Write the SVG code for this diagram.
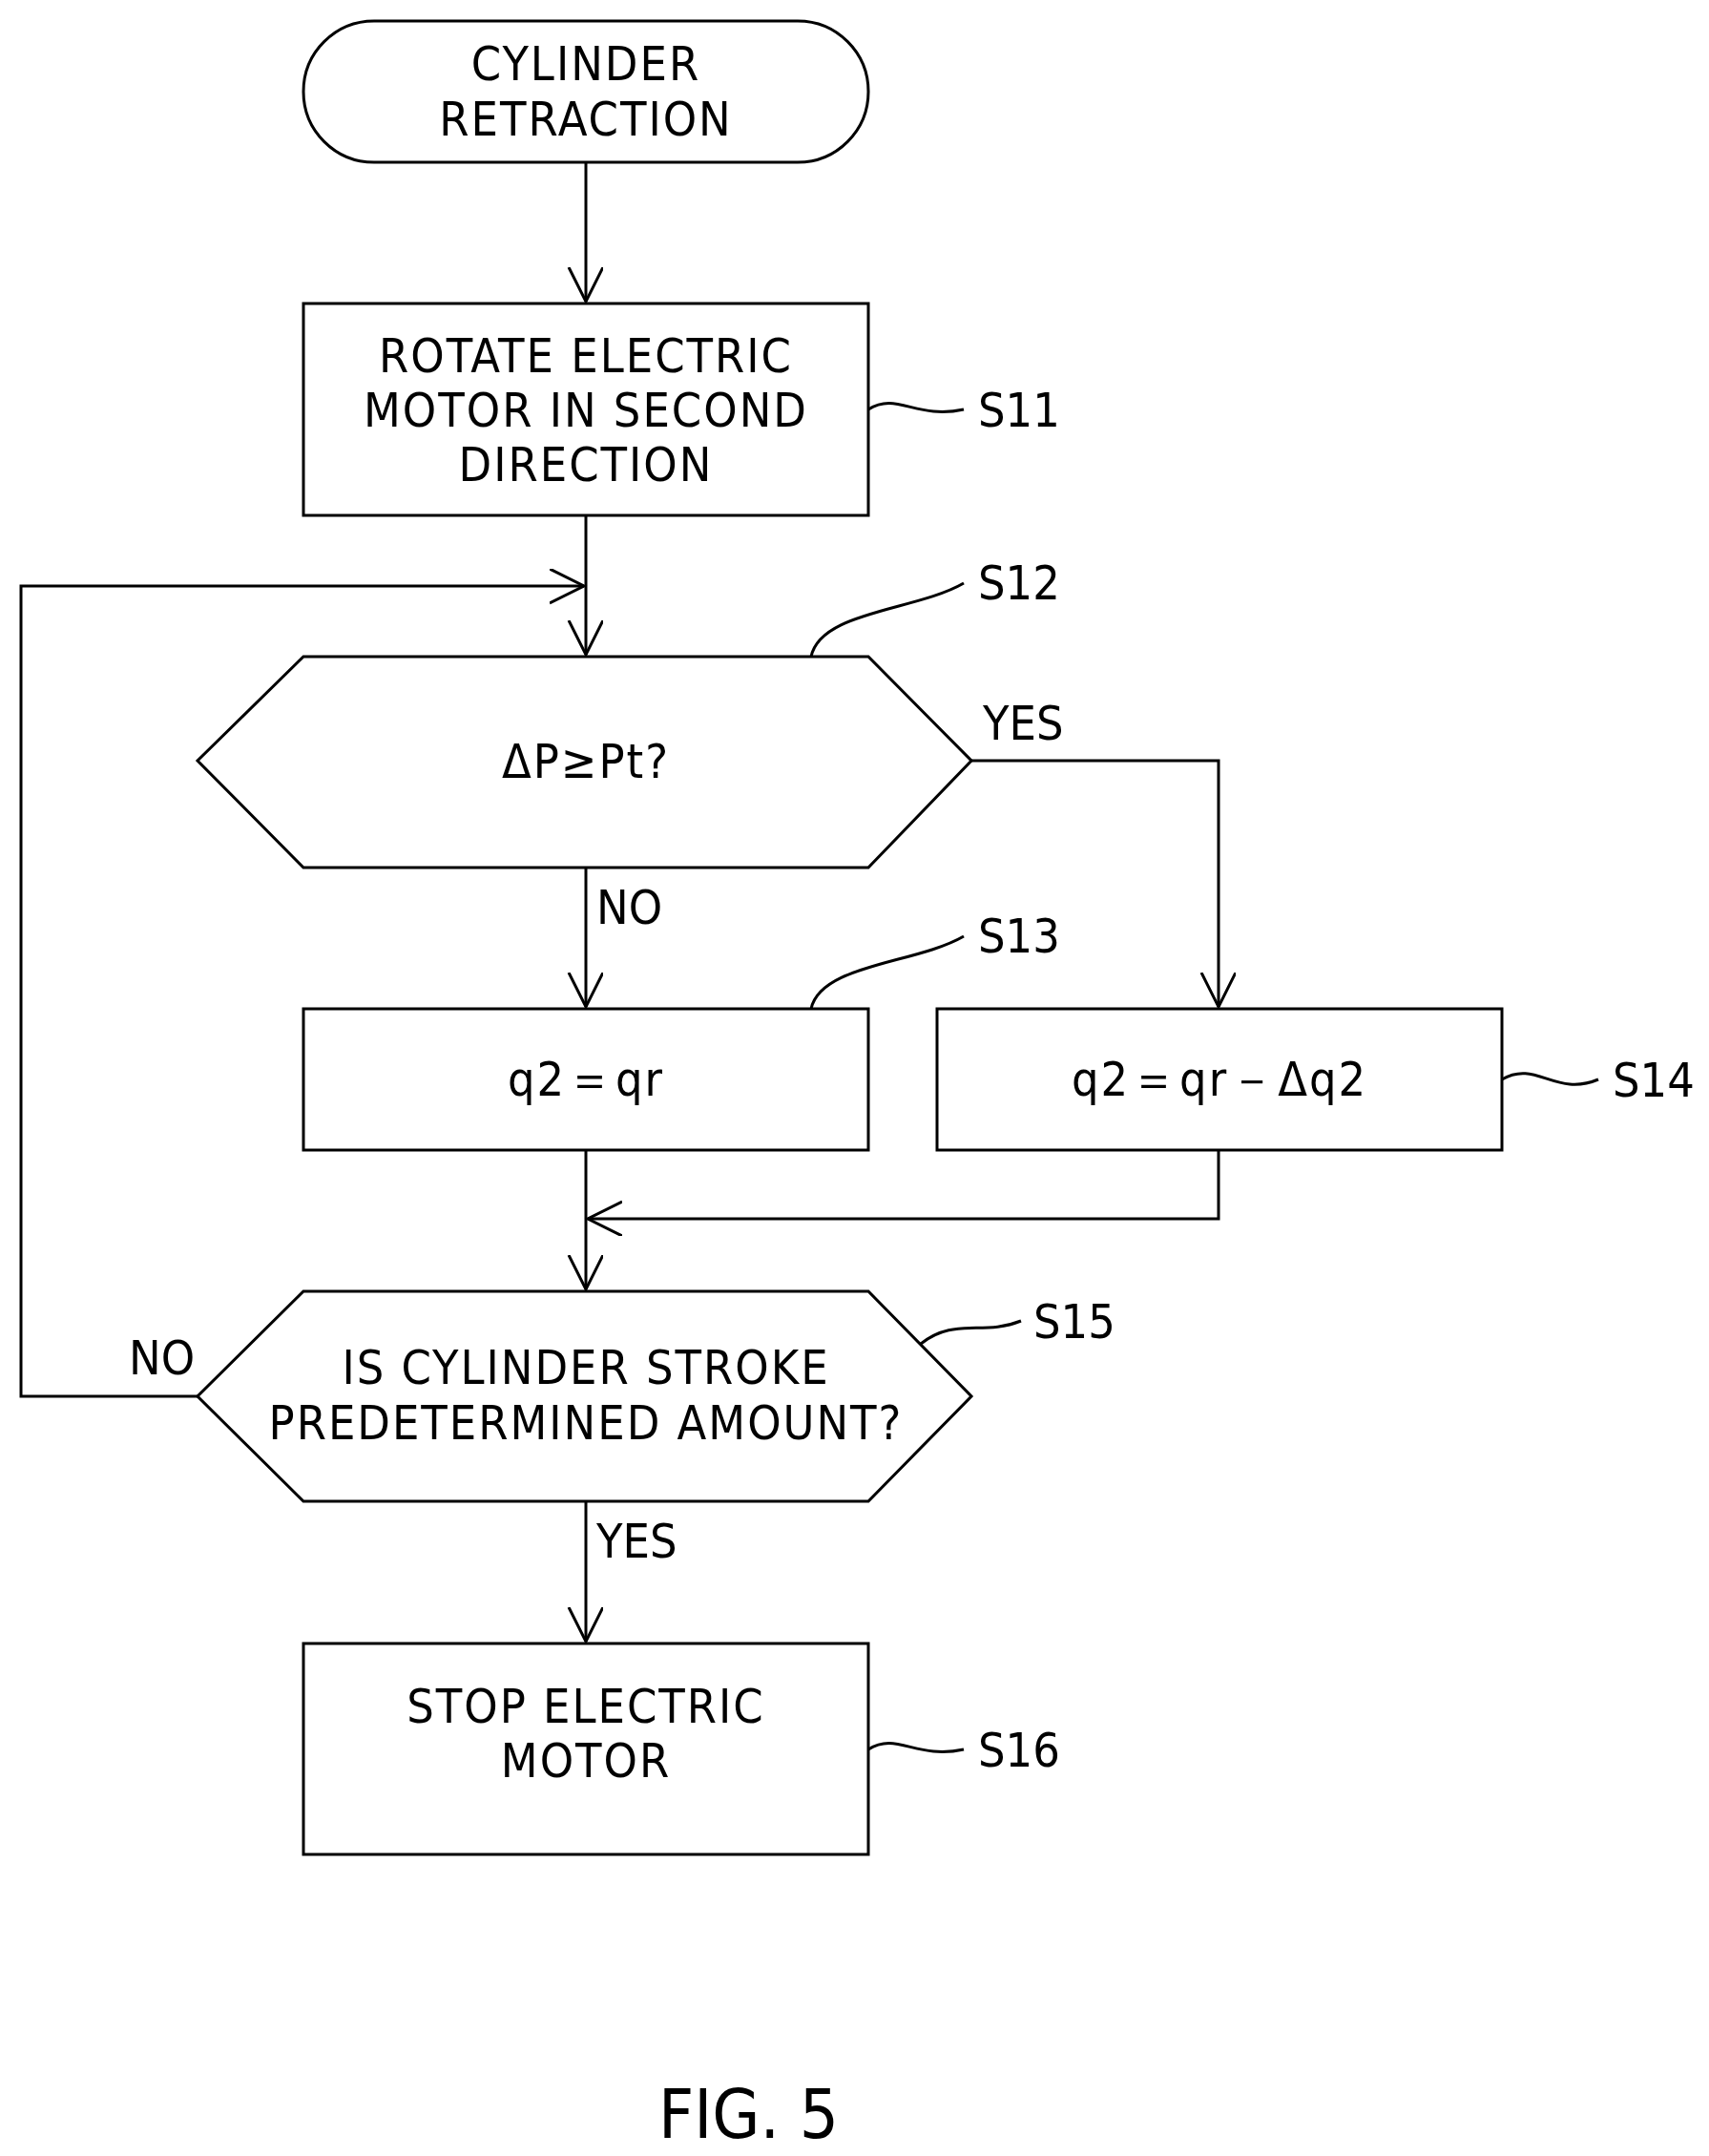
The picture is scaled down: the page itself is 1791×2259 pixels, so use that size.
<svg xmlns="http://www.w3.org/2000/svg" width="1791" height="2259" viewBox="0 0 1791 2259">
<style>
.s{fill:none;stroke:#000;stroke-width:3}
.t{font-family:"DejaVu Sans Condensed","DejaVu Sans",sans-serif;font-size:50px;text-anchor:middle;fill:#000;letter-spacing:2px}
.l{font-family:"DejaVu Sans Condensed","DejaVu Sans",sans-serif;font-size:50px;fill:#000}
</style>
<defs><marker id="a" markerWidth="40" markerHeight="40" refX="36" refY="18" orient="auto" markerUnits="userSpaceOnUse"><path d="M0,0 L36,18 L0,36" fill="none" stroke="#000" stroke-width="3"/></marker></defs>
<rect width="1791" height="2259" fill="#fff"/>
<g id="start"><rect class="s" x="318" y="22" width="592" height="148" rx="74"/><text class="t" x="614" y="84">CYLINDER</text><text class="t" x="614" y="142">RETRACTION</text></g>
<g id="s11"><rect class="s" x="318" y="318" width="592" height="222"/><text class="t" x="614" y="390">ROTATE ELECTRIC</text><text class="t" x="614" y="447">MOTOR IN SECOND</text><text class="t" x="614" y="504">DIRECTION</text><path class="s" d="M910,429 C940,410 960,440 1010,429"/><text class="l" x="1025" y="447">S11</text></g>
<g id="s12"><path class="s" d="M318,688 L910,688 L1018,797 L910,909 L318,909 L207,797 Z"/><text class="t" x="614" y="815">ΔP≥Pt?</text><path class="s" d="M850,688 C860,640 960,640 1010,611"/><text class="l" x="1025" y="628">S12</text></g>
<g id="s13"><rect class="s" x="318" y="1057" width="592" height="148"/><text class="t" x="614" y="1148">q2＝qr</text><path class="s" d="M850,1057 C860,1010 960,1010 1010,981"/><text class="l" x="1025" y="998">S13</text></g>
<g id="s14"><rect class="s" x="982" y="1057" width="592" height="148"/><text class="t" x="1278" y="1148">q2＝qr－Δq2</text><path class="s" d="M1574,1131 C1610,1110 1630,1150 1675,1131"/><text class="l" x="1690" y="1149">S14</text></g>
<g id="s15"><path class="s" d="M318,1353 L910,1353 L1018,1463 L910,1573 L318,1573 L207,1463 Z"/><text class="t" x="614" y="1450">IS CYLINDER STROKE</text><text class="t" x="614" y="1508">PREDETERMINED AMOUNT?</text><path class="s" d="M965,1408 C1000,1380 1030,1400 1070,1384"/><text class="l" x="1083" y="1402">S15</text></g>
<g id="s16"><rect class="s" x="318" y="1722" width="592" height="221"/><text class="t" x="614" y="1805">STOP ELECTRIC</text><text class="t" x="614" y="1862">MOTOR</text><path class="s" d="M910,1833 C940,1814 960,1844 1010,1833"/><text class="l" x="1025" y="1851">S16</text></g>
<g id="connectors">
<path class="s" d="M614,170 L614,316" marker-end="url(#a)"/>
<path class="s" d="M614,540 L614,686" marker-end="url(#a)"/>
<path class="s" d="M207,1463 L22,1463 L22,614 L612,614" marker-end="url(#a)"/>
<path class="s" d="M1018,797 L1277,797 L1277,1055" marker-end="url(#a)"/>
<path class="s" d="M614,909 L614,1055" marker-end="url(#a)"/>
<path class="s" d="M614,1205 L614,1351" marker-end="url(#a)"/>
<path class="s" d="M1277,1205 L1277,1277 L616,1277" marker-end="url(#a)"/>
<path class="s" d="M614,1573 L614,1720" marker-end="url(#a)"/>
<text class="l" x="1030" y="775">YES</text>
<text class="l" x="625" y="968">NO</text>
<text class="l" x="135" y="1440">NO</text>
<text class="l" x="625" y="1632">YES</text>
</g>
<text class="l" x="690" y="2240" style="font-size:72px">FIG. 5</text>
</svg>
